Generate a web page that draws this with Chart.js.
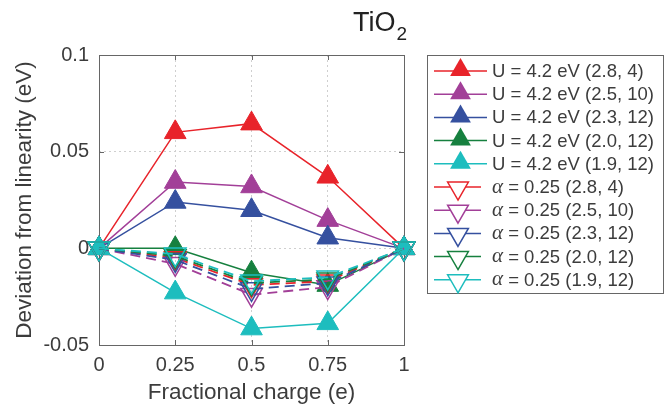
<!DOCTYPE html>
<html>
<head>
<meta charset="utf-8">
<script src="https://cdn.jsdelivr.net/npm/chart.js@4.4.1/dist/chart.umd.min.js"></script>
<style>
  html, body { margin: 0; padding: 0; background: #fff; }
  #wrap { width: 671px; height: 412px; }
</style>
</head>
<body>
<div id="wrap"><canvas id="chart" width="671" height="412"></canvas></div>
<script>
// fractional charge on x, deviation from linearity (eV) on y
const charges = [0, 0.25, 0.5, 0.75, 1];
const xTickLabels = ["0", "0.25", "0.5", "0.75", "1"];
const yTicks = [-0.05, 0, 0.05, 0.1];
const yTickLabels = ["-0.05", "0", "0.05", "0.1"];

const paramLabels = ["(2.8, 4)", "(2.5, 10)", "(2.3, 12)", "(2.0, 12)", "(1.9, 12)"];
const paramColors = ["#e8232a", "#a23f98", "#35509f", "#16803f", "#1dbdbe"];

// U = 4.2 eV runs
const u_28_4 = [0, 0.060, 0.0645, 0.037, 0];
const u_25_10 = [0, 0.0343, 0.032, 0.0146, 0];
const u_23_12 = [0, 0.024, 0.0197, 0.0055, 0];
const u_20_12 = [0, 0.0, -0.0126, -0.019, 0];
const u_19_12 = [0, -0.0229, -0.0415, -0.0388, 0];

// alpha = 0.25 runs
const a_28_4 = [0, -0.005, -0.019, -0.017, 0];
const a_25_10 = [0, -0.008, -0.024, -0.020, 0];
const a_23_12 = [0, -0.006, -0.021, -0.018, 0];
const a_20_12 = [0, -0.004, -0.018, -0.016, 0];
const a_19_12 = [0, -0.003, -0.017, -0.015, 0];

const uRuns = [u_28_4, u_25_10, u_23_12, u_20_12, u_19_12];
const alphaRuns = [a_28_4, a_25_10, a_23_12, a_20_12, a_19_12];

const textColor = "#3c3c3c";
const boxColor = "#666666";
const sans = "'Liberation Sans', Arial, sans-serif";
const markerR = 12.5;

const datasets = [];
uRuns.forEach((vals, i) => {
    datasets.push({
        label: "U = 4.2 eV " + paramLabels[i],
        kind: "u",
        data: vals.map((v, j) => ({ x: charges[j], y: v })),
        borderColor: paramColors[i],
        backgroundColor: paramColors[i],
        borderWidth: 1.5,
        pointStyle: "triangle",
        pointRadius: markerR,
        pointBackgroundColor: paramColors[i],
        pointBorderColor: paramColors[i],
        pointBorderWidth: 1,
        tension: 0,
        clip: false,
    });
});
alphaRuns.forEach((vals, i) => {
    datasets.push({
        label: "= 0.25 " + paramLabels[i],
        kind: "alpha",
        data: vals.map((v, j) => ({ x: charges[j], y: v })),
        borderColor: paramColors[i],
        backgroundColor: "rgba(0,0,0,0)",
        borderWidth: 1.8,
        borderDash: [10, 6],
        pointStyle: "triangle",
        pointRotation: 180,
        pointRadius: markerR,
        pointBackgroundColor: "rgba(0,0,0,0)",
        pointBorderColor: paramColors[i],
        pointBorderWidth: 1.5,
        tension: 0,
        clip: false,
    });
});
// later series sit on top
datasets.forEach((d, i) => { d.order = datasets.length - i; });

function triangle(ctx, x, y, r, down) {
    const s = down ? -1 : 1;
    ctx.beginPath();
    ctx.moveTo(x, y - s * r);
    ctx.lineTo(x + r * Math.sqrt(3) / 2, y + s * r / 2);
    ctx.lineTo(x - r * Math.sqrt(3) / 2, y + s * r / 2);
    ctx.closePath();
}

const framePlugin = {
    id: "frame",
    beforeDatasetsDraw(chart) {
        const { ctx, chartArea: a, scales } = chart;
        ctx.save();
        ctx.strokeStyle = boxColor;
        ctx.lineWidth = 1;
        ctx.strokeRect(a.left + 0.5, a.top + 0.5, a.right - a.left, a.bottom - a.top);
        ctx.beginPath();
        charges.forEach((v) => {
            const px = Math.round(scales.x.getPixelForValue(v)) + 0.5;
            ctx.moveTo(px, a.bottom); ctx.lineTo(px, a.bottom - 5);
            ctx.moveTo(px, a.top); ctx.lineTo(px, a.top + 5);
        });
        yTicks.forEach((v) => {
            const py = Math.round(scales.y.getPixelForValue(v)) + 0.5;
            ctx.moveTo(a.left, py); ctx.lineTo(a.left + 5, py);
            ctx.moveTo(a.right, py); ctx.lineTo(a.right - 5, py);
        });
        ctx.stroke();
        ctx.restore();
    },
    afterDraw(chart) {
        const ctx = chart.ctx;
        ctx.save();
        // title TiO2
        ctx.fillStyle = "#222";
        ctx.textBaseline = "alphabetic";
        ctx.textAlign = "left";
        ctx.font = "27px " + sans;
        ctx.fillText("TiO", 353, 31);
        const w = ctx.measureText("TiO").width;
        ctx.font = "19px " + sans;
        ctx.fillText("2", 353 + w + 1, 40);

        // legend
        const bx = 427, by = 55, bw = 236, bh = 238;
        ctx.fillStyle = "#fff";
        ctx.fillRect(bx, by, bw, bh);
        ctx.strokeStyle = boxColor;
        ctx.lineWidth = 1;
        ctx.strokeRect(bx + 0.5, by + 0.5, bw, bh);
        chart.data.datasets.forEach((d, i) => {
            const y = 71 + i * 23.2;
            ctx.save();
            ctx.strokeStyle = d.borderColor;
            ctx.lineWidth = d.kind === "u" ? d.borderWidth : 1.5;
            ctx.beginPath();
            ctx.moveTo(434, y);
            ctx.lineTo(d.kind === "u" ? 487 : 481, y);
            ctx.stroke();
            const mx = d.kind === "u" ? 460.5 : 458;
            triangle(ctx, mx, y + (d.kind === "u" ? -1 : 1), 12, d.kind !== "u");
            if (d.kind === "u") {
                ctx.fillStyle = d.pointBackgroundColor;
                ctx.fill();
            } else {
                ctx.fillStyle = "#fff";
                ctx.fill();
                ctx.lineWidth = 1.5;
                ctx.stroke();
            }
            ctx.restore();
            ctx.fillStyle = textColor;
            ctx.textBaseline = "middle";
            if (d.kind === "u") {
                ctx.font = "18.5px " + sans;
                ctx.fillText(d.label, 492, y + 1);
            } else {
                ctx.font = "italic 21px 'Liberation Serif', serif";
                ctx.fillText("\u03B1", 492, y);
                const aw = ctx.measureText("\u03B1").width;
                ctx.font = "18.5px " + sans;
                ctx.fillText(" " + d.label, 492 + aw, y + 1);
            }
        });
        ctx.restore();
    },
};

new Chart(document.getElementById("chart"), {
    type: "line",
    data: { datasets: datasets },
    plugins: [framePlugin],
    options: {
        responsive: false,
        animation: false,
        layout: { padding: { top: 55, right: 267, left: 0, bottom: 0 } },
        plugins: {
            legend: { display: false },
            tooltip: { enabled: false },
        },
        scales: {
            x: {
                type: "linear",
                min: 0,
                max: 1,
                afterBuildTicks: (s) => { s.ticks = charges.map((v) => ({ value: v })); },
                afterFit: (s) => { s.height = 67; },
                ticks: {
                    callback: (v, i) => xTickLabels[i],
                    color: textColor,
                    font: { family: sans, size: 20 },
                    padding: 8,
                    maxRotation: 0,
                    autoSkip: false,
                },
                grid: { color: "#cfcfcf", lineWidth: 1, drawTicks: false },
                border: { display: false, dash: [2, 3] },
                title: {
                    display: true,
                    text: "Fractional charge (e)",
                    color: textColor,
                    font: { family: sans, size: 22.5 },
                    padding: { top: 0, bottom: 6 },
                },
            },
            y: {
                min: -0.05,
                max: 0.1,
                afterBuildTicks: (s) => { s.ticks = yTicks.map((v) => ({ value: v })); },
                afterFit: (s) => { s.width = 99; },
                ticks: {
                    callback: (v, i) => yTickLabels[i],
                    color: textColor,
                    font: { family: sans, size: 20 },
                    padding: 10,
                },
                grid: { color: "#cfcfcf", lineWidth: 1, drawTicks: false },
                border: { display: false, dash: [2, 3] },
                title: {
                    display: true,
                    text: "Deviation from linearity (eV)",
                    color: textColor,
                    font: { family: sans, size: 22.5 },
                    padding: { top: 11, bottom: 0 },
                },
            },
        },
    },
});
</script>
</body>
</html>
